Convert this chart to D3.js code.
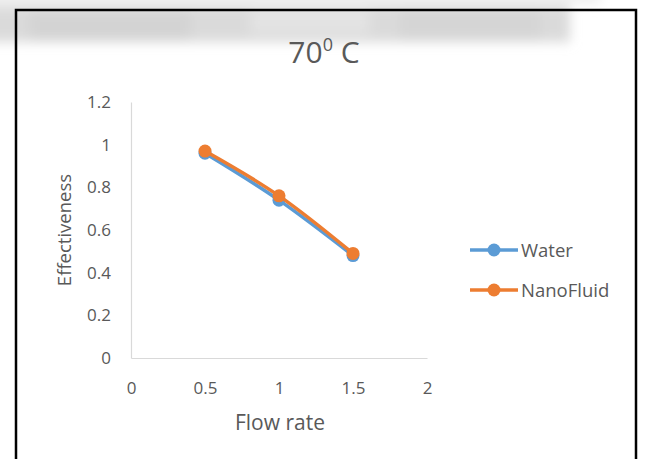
<!DOCTYPE html>
<html><head><meta charset="utf-8">
<script src="https://cdn.jsdelivr.net/npm/d3@7"></script>
<style>body{margin:0;background:#fff}svg{display:block}</style>
</head><body>
<script>
const flowRate = [0.5, 1, 1.5];
const water = [0.96, 0.74, 0.48];
const nanoFluid = [0.97, 0.76, 0.49];
const xTicks = [0, 0.5, 1, 1.5, 2];
const yTicks = [0, 0.2, 0.4, 0.6, 0.8, 1, 1.2];
const seriesNames = ["Water", "NanoFluid"];
const seriesColors = ["#5B9BD5", "#ED7D31"];

const W = 645, H = 459;
const svg = d3.select("body").append("svg").attr("width", W).attr("height", H);
const defs = svg.append("defs");
defs.append("filter").attr("id","blur").attr("x","-20%").attr("y","-80%").attr("width","140%").attr("height","260%")
  .append("feGaussianBlur").attr("stdDeviation", 6);

svg.append("rect").attr("width", W).attr("height", H).attr("fill", "#fff");

// blurred scan header
const hdr = svg.append("g").attr("filter","url(#blur)");
[[-20,6,590,36,"#dadada"],[30,12,160,28,"#d3d3d3"],[250,10,120,24,"#e3e3e3"],[400,10,140,30,"#d5d5d5"],[-20,-10,620,14,"#eeeeee"]]
  .forEach(r => hdr.append("rect").attr("x",r[0]).attr("y",r[1]).attr("width",r[2]).attr("height",r[3]).attr("fill",r[4]));

// border
svg.append("rect").attr("x",16).attr("y",10).attr("width",620).attr("height",460)
  .attr("fill","none").attr("stroke","#000").attr("stroke-width",2.5);

const font = "Open Sans, Noto Sans, sans-serif";
const x = d3.scaleLinear().domain([0, 2]).range([131, 427]);
const y = d3.scaleLinear().domain([0, 1.2]).range([358, 102]);

// title
const t = svg.append("text").attr("x", 324).attr("y", 63).attr("text-anchor","middle")
  .attr("font-family", font).attr("font-size", 30).attr("fill","#595959");
t.append("tspan").text("70");
t.append("tspan").attr("font-size", 18).attr("dy", -12).text("0");
t.append("tspan").attr("dy", 12).text(" C");

// axes
const xAxis = svg.append("g").attr("transform", `translate(0,${y(0)})`)
  .call(d3.axisBottom(x).tickValues(xTicks).tickSize(0).tickPadding(24).tickFormat(d3.format("")));
const yAxis = svg.append("g").attr("transform", `translate(${x(0)},0)`)
  .call(d3.axisLeft(y).tickValues(yTicks).tickSize(0).tickPadding(20).tickFormat(d3.format("")));
[xAxis, yAxis].forEach(a => {
  a.select(".domain").attr("stroke","#d9d9d9").attr("stroke-width",1.2);
  a.selectAll("text").attr("font-family", font).attr("font-size", 17).attr("fill","#595959");
});

svg.append("text").attr("x", 280).attr("y", 430).attr("text-anchor","middle")
  .attr("font-family", font).attr("font-size", 21).attr("fill","#595959").text("Flow rate");
svg.append("text").attr("transform", `translate(71,${y(0.6)}) rotate(-90)`).attr("text-anchor","middle")
  .attr("font-family", font).attr("font-size", 18.5).attr("fill","#595959").text("Effectiveness");

// series
const series = [water, nanoFluid];
const line = d3.line().x((d,i) => x(flowRate[i])).y(d => y(d)).curve(d3.curveMonotoneX);
series.forEach((s, k) => {
  svg.append("path").datum(s).attr("d", line).attr("fill","none")
    .attr("stroke", seriesColors[k]).attr("stroke-width", 3.5).attr("stroke-linecap","round");
  svg.selectAll(null).data(s).enter().append("circle")
    .attr("cx", (d,i) => x(flowRate[i])).attr("cy", d => y(d)).attr("r", 6.5)
    .attr("fill", seriesColors[k]);
});

// legend
const leg = svg.append("g");
seriesNames.forEach((n, k) => {
  const ly = 250 + k * 40;
  leg.append("line").attr("x1", 470).attr("x2", 518).attr("y1", ly).attr("y2", ly)
    .attr("stroke", seriesColors[k]).attr("stroke-width", 3.5);
  leg.append("circle").attr("cx", 494).attr("cy", ly).attr("r", 6.5).attr("fill", seriesColors[k]);
  leg.append("text").attr("x", 521).attr("y", ly + 6.5).attr("font-family", font)
    .attr("font-size", 18.5).attr("fill","#595959").text(n);
});
</script>
</body></html>
